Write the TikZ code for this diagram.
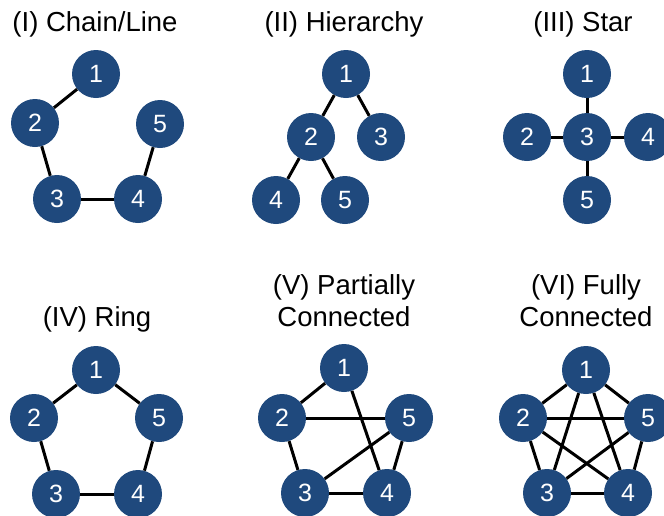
\documentclass[tikz,border=0pt]{standalone}
\usepackage{fontspec}
\setmainfont{Liberation Sans}
\definecolor{vertexblue}{RGB}{31,73,125}
\begin{document}
\begin{tikzpicture}
        [x=1pt,y=-1pt,
        vertexdecorate/.style={shape=circle,fill=vertexblue,minimum size=48pt,inner sep=0pt,text=white,font=\fontsize{25}{28}\selectfont},%
        edgedecorate/.style={-,line width=3pt},%
        titledecorate/.style={align=center,font=\fontsize{27.5}{32}\selectfont}]
        \useasboundingbox (0,0) rectangle (664,515);
        %% titles
        \node[titledecorate] (tchain) at (95,24) {(I) Chain/Line};
        \node[titledecorate] (thier) at (344,24) {(II) Hierarchy};
        \node[titledecorate] (tstar) at (583,24) {(III) Star};
        \node[titledecorate] (tring) at (97,319) {(IV) Ring};
        \node[titledecorate] (tpart) at (344,301) {(V) Partially\\Connected};
        \node[titledecorate] (tfull) at (586,301) {(VI) Fully\\Connected};
        %% nodes or vertices
        \foreach \nodename/\x/\y/\num in {a1/96/74/1, a2/35/123/2, a3/57/199/3, a4/138/199/4, a5/160/124/5,
          b1/346/74/1, b2/311/137/2, b3/381/137/3, b4/276/200/4, b5/345/200/5,
          c1/587/74/1, c2/527/137/2, c3/587/137/3, c4/648/137/4, c5/587/200/5,
          d1/96/370/1, d2/34/418/2, d3/56/494/3, d4/138/494/4, d5/159/418/5,
          e1/344/368/1, e2/282/418/2, e3/305/493/3, e4/387/493/4, e5/409/418/5,
          f1/586/370/1, f2/523/418/2, f3/547/493/3, f4/628/493/4, f5/648/418/5}
        {
          \node (\nodename) at (\x,\y) [vertexdecorate] {\num};
        }
        %% edges or lines
        \path
        \foreach \startnode/\endnode in {a1/a2, a2/a3, a3/a4, a4/a5,
          b1/b2, b1/b3, b2/b4, b2/b5,
          c1/c3, c2/c3, c3/c4, c3/c5,
          d1/d2, d2/d3, d3/d4, d4/d5, d5/d1,
          e1/e2, e2/e5, e1/e4, e2/e3, e3/e4, e3/e5, e4/e5,
          f1/f2, f1/f3, f1/f4, f1/f5, f2/f3, f2/f4, f2/f5, f3/f4, f3/f5, f4/f5}
        {
          (\startnode) edge[edgedecorate] (\endnode)
        };
      \end{tikzpicture}
\end{document}
